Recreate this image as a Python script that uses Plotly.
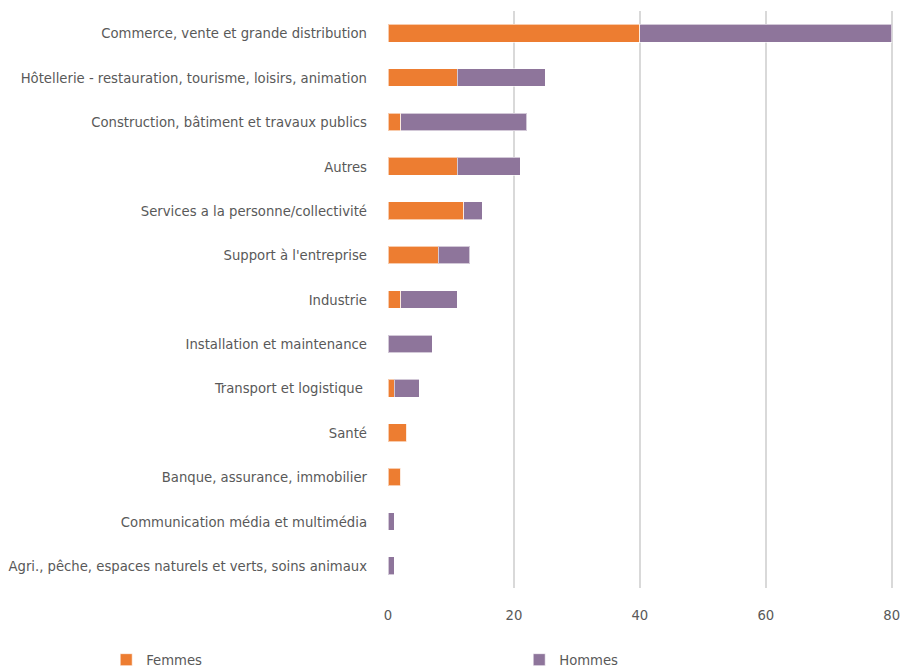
import plotly.graph_objects as go

categories = [
    "Commerce, vente et grande distribution",
    "Hôtellerie - restauration, tourisme, loisirs, animation",
    "Construction, bâtiment et travaux publics",
    "Autres",
    "Services a la personne/collectivité",
    "Support à l'entreprise",
    "Industrie",
    "Installation et maintenance",
    "Transport et logistique\u00a0",
    "Santé",
    "Banque, assurance, immobilier",
    "Communication média et multimédia",
    "Agri., pêche, espaces naturels et verts, soins animaux",
]
femmes = [40, 11, 2, 11, 12, 8, 2, 0, 1, 3, 2, 0, 0]
hommes = [40, 14, 20, 10, 3, 5, 9, 7, 4, 0, 0, 1, 1]
x_ticks = [0, 20, 40, 60, 80]

FONT = "DejaVu Sans Condensed"
TXT = "#595959"
FS = 14.7

fig = go.Figure()
fig.add_trace(go.Bar(y=categories, x=femmes, name="Femmes", orientation="h",
                     marker=dict(color="#ED7D31", line=dict(color="rgba(255,255,255,0.6)", width=1))))
fig.add_trace(go.Bar(y=categories, x=hommes, name="Hommes", orientation="h",
                     marker=dict(color="#8E759B", line=dict(color="rgba(255,255,255,0.6)", width=1))))

fig.update_layout(
    barmode="stack",
    bargap=0.6,
    width=902, height=671,
    margin=dict(l=388, r=9, t=11, b=83, autoexpand=False),
    paper_bgcolor="white", plot_bgcolor="white",
    font=dict(family=FONT, size=FS, color=TXT),
    legend=dict(orientation="h", x=-0.558, xanchor="left", y=-0.125, yanchor="middle",
                entrywidth=368, entrywidthmode="pixels",
                font=dict(family=FONT, size=FS, color=TXT), traceorder="normal"),
    xaxis=dict(range=[0, 80.2], tickvals=x_ticks, showgrid=True, gridcolor="#D9D9D9", gridwidth=1.5,
               zeroline=False, showline=False, ticks="", ticklabelstandoff=16,
               tickfont=dict(family=FONT, size=FS, color=TXT)),
    yaxis=dict(autorange="reversed", showgrid=False, zeroline=False, showline=False, ticks="",
               ticklabelstandoff=20, tickfont=dict(family=FONT, size=FS, color=TXT)),
)
fig.write_html("out.html", config={"displayModeBar": False},
               post_script="document.body.style.margin='0';")
